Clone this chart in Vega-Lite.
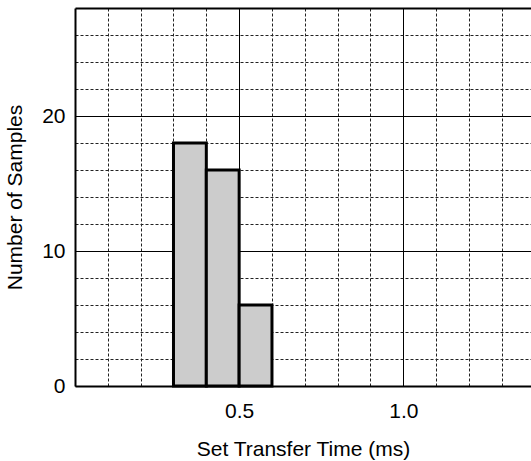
{
  "$schema": "https://vega.github.io/schema/vega-lite/v6.json",
  "autosize": "none",
  "padding": {"left": 75, "top": 8, "right": 0, "bottom": 75},
  "width": 456,
  "height": 378,
  "background": "white",
  "config": {
    "view": {"stroke": null},
    "font": "Liberation Sans",
    "axis": {
      "labelFont": "Liberation Sans",
      "titleFont": "Liberation Sans",
      "labelFontSize": 21,
      "titleFontSize": 21,
      "titleFontWeight": "normal",
      "labelColor": "black",
      "titleColor": "black",
      "domainColor": "black",
      "domainWidth": 2,
      "ticks": false,
      "gridOpacity": 1
    }
  },
  "data": {
    "values": [
      {"start": 0.3, "end": 0.4, "count": 18},
      {"start": 0.4, "end": 0.5, "count": 16},
      {"start": 0.5, "end": 0.6, "count": 6}
    ]
  },
  "mark": {"type": "rect", "fill": "#cccccc", "stroke": "black", "strokeWidth": 3},
  "encoding": {
    "x": {
      "field": "start",
      "type": "quantitative",
      "scale": {"domain": [0, 1.389], "nice": false, "zero": false},
      "axis": {
        "title": "Set Transfer Time (ms)",
        "values": [0.1, 0.2, 0.3, 0.4, 0.5, 0.6, 0.7, 0.8, 0.9, 1.0, 1.1, 1.2, 1.3],
        "labelExpr": "abs(round(datum.value*10) % 5) == 0 ? format(datum.value, '.1f') : ''",
        "labelPadding": 14,
        "titlePadding": 17,
        "labelFlush": false,
        "labelOverlap": false,
        "grid": true,
        "gridColor": {"condition": {"test": "abs(round(datum.value*10) % 5) == 0", "value": "black"}, "value": "#222222"},
        "gridDash": {"condition": {"test": "abs(round(datum.value*10) % 5) == 0", "value": []}, "value": [3, 2]},
        "gridWidth": 1
      }
    },
    "x2": {"field": "end"},
    "y": {
      "field": "count",
      "type": "quantitative",
      "scale": {"domain": [0, 28], "nice": false},
      "axis": {
        "title": "Number of Samples",
        "values": [0, 2, 4, 6, 8, 10, 12, 14, 16, 18, 20, 22, 24, 26, 28],
        "labelExpr": "(datum.value % 10 == 0 && datum.value < 28) ? datum.label : ''",
        "labelPadding": 10,
        "titlePadding": 16,
        "labelFlush": false,
        "labelOverlap": false,
        "grid": true,
        "gridColor": {"condition": {"test": "datum.value % 10 == 0 || datum.value == 28", "value": "black"}, "value": "#222222"},
        "gridDash": {"condition": {"test": "datum.value % 10 == 0 || datum.value == 28", "value": []}, "value": [3, 2]},
        "gridWidth": {"condition": {"test": "datum.value == 28", "value": 2}, "value": 1}
      }
    },
    "y2": {"datum": 0}
  }
}
